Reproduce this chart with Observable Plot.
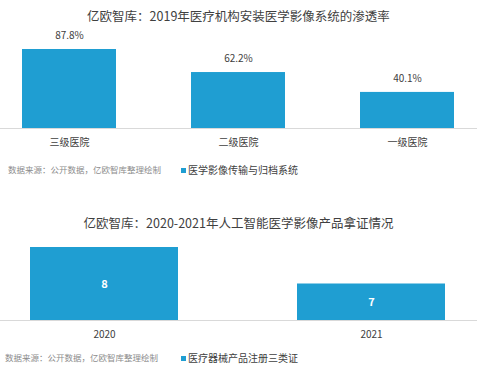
<!DOCTYPE html>
<html><head><meta charset="utf-8">
<script src="https://cdn.jsdelivr.net/npm/d3@7"></script>
<script src="https://cdn.jsdelivr.net/npm/@observablehq/plot@0.6"></script>
<style>
body{margin:0;background:#fff;width:477px;height:374px;position:relative;overflow:hidden;font-family:"Noto Sans CJK SC","Noto Sans",sans-serif;}
.abs{position:absolute;}
.title{left:0;width:477px;text-align:center;font-size:12.5px;color:#404040;white-space:nowrap;}
.src{font-size:8.5px;color:#8c8c8c;white-space:nowrap;}
.leg{font-size:10px;color:#404040;white-space:nowrap;}
.sq{display:inline-block;width:5px;height:5px;background:#1f9ed2;margin-right:2px;vertical-align:1px;}
</style></head>
<body>
<div class="abs title" style="top:6px">亿欧智库：2019年医疗机构安装医学影像系统的渗透率</div>
<div class="abs" id="c1" style="top:25px;left:0"></div>
<div class="abs src" style="left:8px;top:163px">数据来源：公开数据，亿欧智库整理绘制</div>
<div class="abs leg" style="left:181px;top:162px"><span class="sq"></span>医学影像传输与归档系统</div>

<div class="abs title" style="top:213px">亿欧智库：2020-2021年人工智能医学影像产品拿证情况</div>
<div class="abs" id="c2" style="top:232px;left:0"></div>
<div class="abs src" style="left:5px;top:351px">数据来源：公开数据，亿欧智库整理绘制</div>
<div class="abs leg" style="left:181px;top:350px"><span class="sq"></span>医疗器械产品注册三类证</div>
<script>
const hospitals = ["三级医院", "二级医院", "一级医院"];
const pacsRates = [87.8, 62.2, 40.1];
const years = ["2020", "2021"];
const certCounts = [8, 7];
const certBase = 6;

const blue = "#1f9ed2";
const data1 = hospitals.map((h, i) => ({h, v: pacsRates[i]}));
const data2 = years.map((y, i) => ({y, v: certCounts[i]}));

const p1 = Plot.plot({
  width: 477, height: 130,
  marginTop: 24, marginBottom: 27, marginLeft: 22, marginRight: 23,
  style: {fontFamily: "'Noto Sans CJK SC', sans-serif", fontSize: "10px", color: "#404040", background: "transparent"},
  x: {domain: hospitals, paddingInner: 0.4438, paddingOuter: 0, axis: null, label: null},
  y: {domain: [0, 87.8], axis: null, label: null},
  marks: [
    Plot.barY(data1, {x: "h", y: "v", fill: blue}),
    Plot.ruleY([0], {stroke: "#d9d9d9", strokeWidth: 1, insetLeft: -22, insetRight: -23}),
    Plot.text(data1, {x: "h", y: "v", text: d => d.v.toFixed(1) + "%", dy: -14, fontSize: 10, fill: "#404040"}),
    Plot.axisX({tickSize: 0, tickPadding: 10, fontSize: 10, fill: "#404040", label: null})
  ]
});
document.getElementById("c1").appendChild(p1);

const p2 = Plot.plot({
  width: 477, height: 115,
  marginTop: 15, marginBottom: 27, marginLeft: 29, marginRight: 31,
  style: {fontFamily: "'Noto Sans CJK SC', sans-serif", fontSize: "10px", color: "#404040", background: "transparent"},
  x: {domain: years, paddingInner: 0.444, paddingOuter: 0, axis: null, label: null},
  y: {domain: [certBase, 8], axis: null, label: null},
  marks: [
    Plot.barY(data2, {x: "y", y1: certBase, y2: "v", fill: blue}),
    Plot.ruleY([certBase], {stroke: "#d9d9d9", strokeWidth: 1, insetLeft: -29, insetRight: -31}),
    Plot.text(data2, {x: "y", y: d => (d.v + certBase) / 2, text: d => String(d.v), fontSize: 11, fontWeight: "bold", fill: "white"}),
    Plot.axisX({tickSize: 0, tickPadding: 10, fontSize: 10, fill: "#404040", label: null})
  ]
});
document.getElementById("c2").appendChild(p2);
</script>
</body></html>
